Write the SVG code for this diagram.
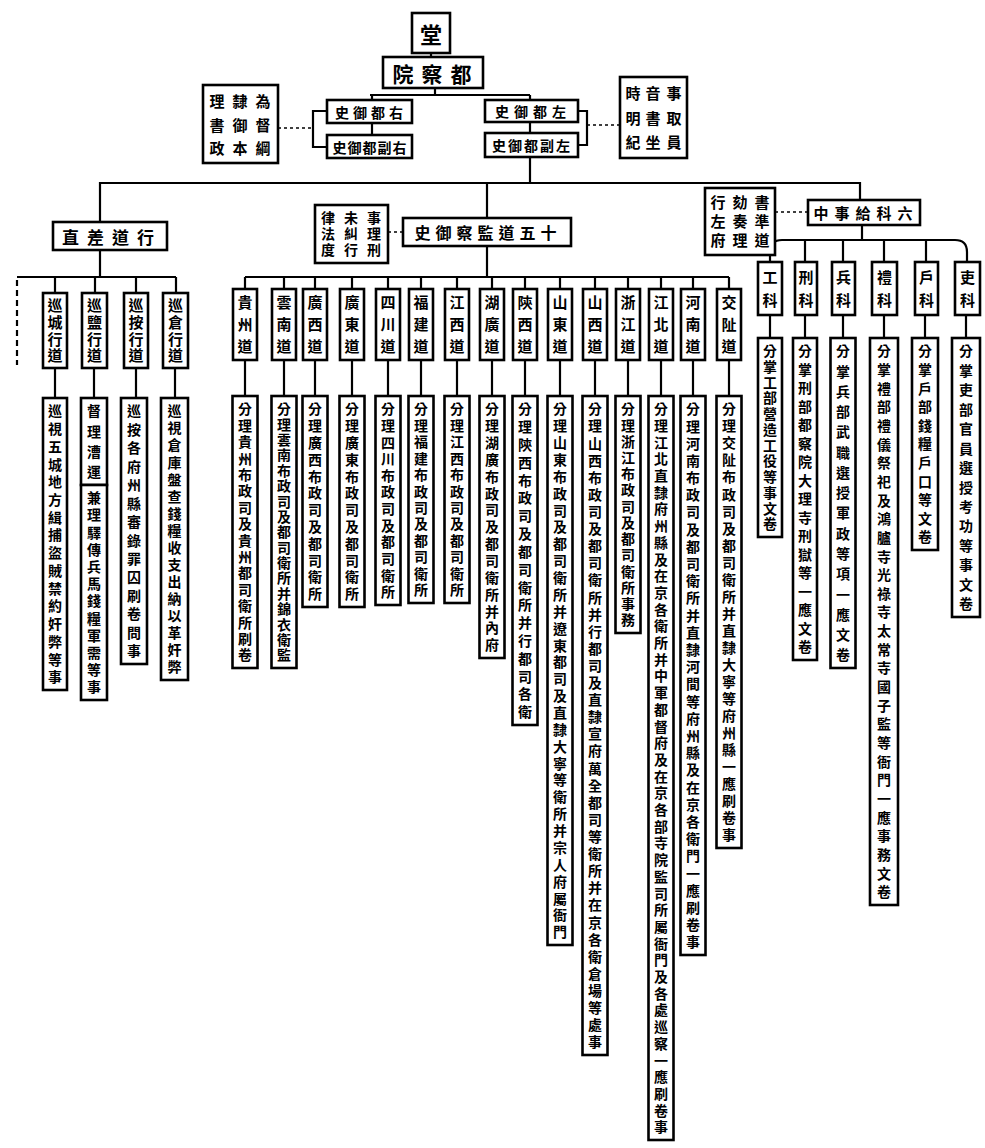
<svg xmlns="http://www.w3.org/2000/svg" width="985" height="1148" viewBox="0 0 985 1148">
<style>
.bx{fill:#fff;stroke:#000;stroke-width:2.6}
.ln{stroke:#000;stroke-width:2.2;fill:none}
.ds{stroke:#000;stroke-width:1.4;stroke-dasharray:3 3;fill:none}
.t{font-family:"Noto Sans CJK TC","Noto Sans CJK SC",sans-serif;font-weight:700;fill:#000}
.v{writing-mode:vertical-rl;text-orientation:upright}
.h{text-anchor:middle;dominant-baseline:central}
.lg{font-size:14px}
.sb{font-size:15px}
</style>
<rect width="985" height="1148" fill="#fff"/>
<g id="connectors">
<line class="ln" x1="431" y1="53" x2="431" y2="57"/>
<path class="ln" d="M435,88 V95 M370,95 H530 M372,95 V100 M372,123 V135 M530,95 V100 M530,122 V133 M530,157 V183"/>
<path class="ln" d="M327,111 H313 V147 H327"/>
<line class="ds" x1="278" y1="128" x2="313" y2="128"/>
<path class="ln" d="M578,111 H587 V145 H578"/>
<line class="ds" x1="587" y1="125" x2="620" y2="125"/>
<path class="ln" d="M100,222 V183 H860 V200"/>
<path class="ln" d="M487,183 V218 M487,246 V277 M245,277 H729"/>
<path class="ln" d="M245,277 V289 M284,277 V289 M315,277 V289 M352,277 V289 M388,277 V289 M421,277 V289 M457,277 V289 M492,277 V289 M525,277 V289 M560,277 V289 M595,277 V289 M628,277 V289 M661,277 V289 M693,277 V289 M729,277 V289"/>
<path class="ln" d="M245,360 V396 M284,360 V396 M315,360 V396 M352,360 V396 M388,360 V396 M421,360 V396 M457,360 V396 M492,360 V396 M525,360 V396 M560,360 V396 M595,360 V396 M628,360 V396 M661,360 V396 M693,360 V396 M729,360 V396"/>
<line class="ds" x1="388" y1="232" x2="403" y2="232"/>
<path class="ln" d="M100,250 V277 M17,277 H176 M55,277 V293 M95,277 V293 M136,277 V293 M176,277 V293"/>
<line class="ds" x1="17" y1="280" x2="17" y2="365" style="stroke-width:2.2;stroke-dasharray:6 4"/>
<path class="ln" d="M55,368 V398 M94,368 V398 M136,368 V398 M175,368 V398"/>
<line class="ds" x1="775" y1="212" x2="808" y2="212"/>
<path class="ln" d="M862,225 V240 M770,262 V252 Q770,240 782,240 H955 Q967,240 967,252 V262 M805,240 V262 M843,240 V262 M884,240 V262 M926,240 V262"/>
<path class="ln" d="M770,315 V338 M805,315 V338 M843,315 V338 M884,315 V338 M925,315 V338 M966,315 V338"/>
</g>
<g id="n-top"><rect class="bx" x="412" y="13" width="38" height="40"/><text class="t h" x="431" y="33" font-size="22">堂</text></g>
<g id="n-root"><rect class="bx" x="383" y="57" width="100" height="31"/><text class="t h" x="436" y="72.5" font-size="21" letter-spacing="8">院察都</text></g>
<g id="n-lnote"><rect class="bx" x="203" y="85" width="75" height="78"/>
<text class="t v" x="217" y="94" font-size="15" textLength="62" lengthAdjust="spacing">理書政</text>
<text class="t v" x="240" y="94" font-size="15" textLength="62" lengthAdjust="spacing">隸御本</text>
<text class="t v" x="263" y="94" font-size="15" textLength="62" lengthAdjust="spacing">為督綱</text></g>
<g id="n-r1"><rect class="bx" x="327" y="100" width="85" height="23"/><text class="t h" x="371" y="111.5" font-size="14" letter-spacing="4">史御都右</text></g>
<g id="n-r2"><rect class="bx" x="327" y="135" width="85" height="23"/><text class="t h" x="370" y="146.5" font-size="14" letter-spacing="1">史御都副右</text></g>
<g id="n-l1"><rect class="bx" x="485" y="100" width="93" height="22"/><text class="t h" x="533" y="111" font-size="14" letter-spacing="5">史御都左</text></g>
<g id="n-l2"><rect class="bx" x="485" y="133" width="93" height="24"/><text class="t h" x="532" y="145" font-size="14" letter-spacing="2">史御都副左</text></g>
<g id="n-rnote"><rect class="bx" x="620" y="77" width="67" height="81"/>
<text class="t v" x="633" y="86" font-size="15" textLength="64" lengthAdjust="spacing">時明紀</text>
<text class="t v" x="653" y="86" font-size="15" textLength="64" lengthAdjust="spacing">音書坐</text>
<text class="t v" x="674" y="86" font-size="15" textLength="64" lengthAdjust="spacing">事取員</text></g>
<g id="g-left"><rect class="bx" x="53" y="222" width="114" height="28"/><text class="t h" x="112" y="236" font-size="17" letter-spacing="8">直差道行</text></g>
<g id="s-l1"><rect class="bx" x="43" y="293" width="24" height="75"/><text class="t v sb" x="55" y="298" textLength="65" lengthAdjust="spacing">巡城行道</text></g>
<g id="s-l2"><rect class="bx" x="82" y="293" width="25" height="75"/><text class="t v sb" x="94.5" y="298" textLength="65" lengthAdjust="spacing">巡鹽行道</text></g>
<g id="s-l3"><rect class="bx" x="124" y="293" width="24" height="75"/><text class="t v sb" x="136" y="298" textLength="65" lengthAdjust="spacing">巡按行道</text></g>
<g id="s-l4"><rect class="bx" x="163" y="293" width="25" height="75"/><text class="t v sb" x="175.5" y="298" textLength="65" lengthAdjust="spacing">巡倉行道</text></g>
<g id="d-l1"><rect class="bx" x="43" y="398" width="24" height="292"/><text class="t v lg" x="55" y="404" textLength="280" lengthAdjust="spacing">巡視五城地方緝捕盜賊禁約奸弊等事</text></g>
<g id="d-l2"><rect class="bx" x="81" y="398" width="26" height="87"/><text class="t v lg" x="94" y="404" textLength="75" lengthAdjust="spacing">督理漕運</text>
<rect class="bx" x="81" y="485" width="26" height="215"/><text class="t v lg" x="94" y="491" textLength="203" lengthAdjust="spacing">兼理驛傳兵馬錢糧軍需等事</text></g>
<g id="d-l3"><rect class="bx" x="121" y="398" width="26" height="266"/><text class="t v lg" x="134" y="404" textLength="254" lengthAdjust="spacing">巡按各府州縣審錄罪囚刷卷問事</text></g>
<g id="d-l4"><rect class="bx" x="161" y="398" width="27" height="282"/><text class="t v lg" x="174.5" y="404" textLength="270" lengthAdjust="spacing">巡視倉庫盤查錢糧收支出納以革奸弊</text></g>
<g id="g-mid"><rect class="bx" x="403" y="218" width="168" height="28"/><text class="t h" x="488" y="232" font-size="16" letter-spacing="5">史御察監道五十</text></g>
<g id="n-mnote"><rect class="bx" x="315" y="205" width="73" height="58"/>
<text class="t v" x="328" y="211" font-size="14" textLength="46" lengthAdjust="spacing">律法度</text>
<text class="t v" x="351" y="211" font-size="14" textLength="46" lengthAdjust="spacing">未糾行</text>
<text class="t v" x="374" y="211" font-size="14" textLength="46" lengthAdjust="spacing">事理刑</text></g>
<g id="s-m1"><rect class="bx" x="233" y="289" width="24" height="71"/><text class="t v sb" x="245" y="295" textLength="59" lengthAdjust="spacing">貴州道</text></g>
<g id="s-m2"><rect class="bx" x="272" y="289" width="24" height="71"/><text class="t v sb" x="284" y="295" textLength="59" lengthAdjust="spacing">雲南道</text></g>
<g id="s-m3"><rect class="bx" x="303" y="289" width="24" height="71"/><text class="t v sb" x="315" y="295" textLength="59" lengthAdjust="spacing">廣西道</text></g>
<g id="s-m4"><rect class="bx" x="340" y="289" width="24" height="71"/><text class="t v sb" x="352" y="295" textLength="59" lengthAdjust="spacing">廣東道</text></g>
<g id="s-m5"><rect class="bx" x="376" y="289" width="24" height="71"/><text class="t v sb" x="388" y="295" textLength="59" lengthAdjust="spacing">四川道</text></g>
<g id="s-m6"><rect class="bx" x="409" y="289" width="24" height="71"/><text class="t v sb" x="421" y="295" textLength="59" lengthAdjust="spacing">福建道</text></g>
<g id="s-m7"><rect class="bx" x="445" y="289" width="24" height="71"/><text class="t v sb" x="457" y="295" textLength="59" lengthAdjust="spacing">江西道</text></g>
<g id="s-m8"><rect class="bx" x="480" y="289" width="24" height="71"/><text class="t v sb" x="492" y="295" textLength="59" lengthAdjust="spacing">湖廣道</text></g>
<g id="s-m9"><rect class="bx" x="513" y="289" width="24" height="71"/><text class="t v sb" x="525" y="295" textLength="59" lengthAdjust="spacing">陝西道</text></g>
<g id="s-m10"><rect class="bx" x="548" y="289" width="24" height="71"/><text class="t v sb" x="560" y="295" textLength="59" lengthAdjust="spacing">山東道</text></g>
<g id="s-m11"><rect class="bx" x="583" y="289" width="24" height="71"/><text class="t v sb" x="595" y="295" textLength="59" lengthAdjust="spacing">山西道</text></g>
<g id="s-m12"><rect class="bx" x="616" y="289" width="24" height="71"/><text class="t v sb" x="628" y="295" textLength="59" lengthAdjust="spacing">浙江道</text></g>
<g id="s-m13"><rect class="bx" x="649" y="289" width="24" height="71"/><text class="t v sb" x="661" y="295" textLength="59" lengthAdjust="spacing">江北道</text></g>
<g id="s-m14"><rect class="bx" x="681" y="289" width="24" height="71"/><text class="t v sb" x="693" y="295" textLength="59" lengthAdjust="spacing">河南道</text></g>
<g id="s-m15"><rect class="bx" x="717" y="289" width="24" height="71"/><text class="t v sb" x="729" y="295" textLength="59" lengthAdjust="spacing">交阯道</text></g>
<g id="d-m1"><rect class="bx" x="232.5" y="396" width="25" height="272"/><text class="t v lg" x="245" y="402" textLength="260" lengthAdjust="spacing">分理貴州布政司及貴州都司衛所刷卷</text></g>
<g id="d-m2"><rect class="bx" x="271.5" y="396" width="25" height="272"/><text class="t v lg" x="284" y="402" textLength="260" lengthAdjust="spacing">分理雲南布政司及都司衛所并錦衣衛監</text></g>
<g id="d-m3"><rect class="bx" x="302.5" y="396" width="25" height="211"/><text class="t v lg" x="315" y="402" textLength="199" lengthAdjust="spacing">分理廣西布政司及都司衛所</text></g>
<g id="d-m4"><rect class="bx" x="339.5" y="396" width="25" height="211"/><text class="t v lg" x="352" y="402" textLength="199" lengthAdjust="spacing">分理廣東布政司及都司衛所</text></g>
<g id="d-m5"><rect class="bx" x="375.5" y="396" width="25" height="209"/><text class="t v lg" x="388" y="402" textLength="197" lengthAdjust="spacing">分理四川布政司及都司衛所</text></g>
<g id="d-m6"><rect class="bx" x="408.5" y="396" width="25" height="207"/><text class="t v lg" x="421" y="402" textLength="195" lengthAdjust="spacing">分理福建布政司及都司衛所</text></g>
<g id="d-m7"><rect class="bx" x="444.5" y="396" width="25" height="207"/><text class="t v lg" x="457" y="402" textLength="195" lengthAdjust="spacing">分理江西布政司及都司衛所</text></g>
<g id="d-m8"><rect class="bx" x="479.5" y="396" width="25" height="262"/><text class="t v lg" x="492" y="402" textLength="250" lengthAdjust="spacing">分理湖廣布政司及都司衛所并內府</text></g>
<g id="d-m9"><rect class="bx" x="512.5" y="396" width="25" height="329"/><text class="t v lg" x="525" y="402" textLength="317" lengthAdjust="spacing">分理陝西布政司及都司衛所并行都司各衛</text></g>
<g id="d-m10"><rect class="bx" x="547.5" y="396" width="25" height="549"/><text class="t v lg" x="560" y="402" textLength="537" lengthAdjust="spacing">分理山東布政司及都司衛所并遼東都司及直隸大寧等衛所并宗人府屬衙門</text></g>
<g id="d-m11"><rect class="bx" x="582.5" y="396" width="25" height="659"/><text class="t v lg" x="595" y="402" textLength="647" lengthAdjust="spacing">分理山西布政司及都司衛所并行都司及直隸宣府萬全都司等衛所并在京各衛倉場等處事</text></g>
<g id="d-m12"><rect class="bx" x="615.5" y="396" width="25" height="237"/><text class="t v lg" x="628" y="402" textLength="225" lengthAdjust="spacing">分理浙江布政司及都司衛所事務</text></g>
<g id="d-m13"><rect class="bx" x="648.5" y="396" width="25" height="744"/><text class="t v lg" x="661" y="402" textLength="732" lengthAdjust="spacing">分理江北直隸府州縣及在京各衛所并中軍都督府及在京各部寺院監司所屬衙門及各處巡察一應刷卷事</text></g>
<g id="d-m14"><rect class="bx" x="680.5" y="396" width="25" height="559"/><text class="t v lg" x="693" y="402" textLength="547" lengthAdjust="spacing">分理河南布政司及都司衛所并直隸河間等府州縣及在京各衛門一應刷卷事</text></g>
<g id="d-m15"><rect class="bx" x="716.5" y="396" width="25" height="452"/><text class="t v lg" x="729" y="402" textLength="440" lengthAdjust="spacing">分理交阯布政司及都司衛所并直隸大寧等府州縣一應刷卷事</text></g>
<g id="g-right"><rect class="bx" x="808" y="200" width="112" height="25"/><text class="t h" x="866" y="212.5" font-size="15" letter-spacing="6">中事給科六</text></g>
<g id="n-rnote2"><rect class="bx" x="705" y="188" width="70" height="67"/>
<text class="t v" x="718" y="195" font-size="15" textLength="53" lengthAdjust="spacing">行左府</text>
<text class="t v" x="740" y="195" font-size="15" textLength="53" lengthAdjust="spacing">劾奏理</text>
<text class="t v" x="762" y="195" font-size="15" textLength="53" lengthAdjust="spacing">書準道</text></g>
<g id="s-r1"><rect class="bx" x="758" y="262" width="24" height="53"/><text class="t v sb" x="770" y="270" textLength="38" lengthAdjust="spacing">工科</text></g>
<g id="s-r2"><rect class="bx" x="795" y="262" width="22" height="53"/><text class="t v sb" x="806" y="270" textLength="38" lengthAdjust="spacing">刑科</text></g>
<g id="s-r3"><rect class="bx" x="832" y="262" width="23" height="53"/><text class="t v sb" x="843.5" y="270" textLength="38" lengthAdjust="spacing">兵科</text></g>
<g id="s-r4"><rect class="bx" x="872" y="262" width="25" height="53"/><text class="t v sb" x="884.5" y="270" textLength="38" lengthAdjust="spacing">禮科</text></g>
<g id="s-r5"><rect class="bx" x="915" y="262" width="23" height="53"/><text class="t v sb" x="926.5" y="270" textLength="38" lengthAdjust="spacing">戶科</text></g>
<g id="s-r6"><rect class="bx" x="955" y="262" width="25" height="53"/><text class="t v sb" x="967.5" y="270" textLength="38" lengthAdjust="spacing">吏科</text></g>
<g id="d-r1"><rect class="bx" x="758" y="338" width="24" height="199"/><text class="t v lg" x="770" y="344" textLength="187" lengthAdjust="spacing">分掌工部營造工役等事文卷</text></g>
<g id="d-r2"><rect class="bx" x="793" y="338" width="24" height="322"/><text class="t v lg" x="805" y="344" textLength="310" lengthAdjust="spacing">分掌刑部都察院大理寺刑獄等一應文卷</text></g>
<g id="d-r3"><rect class="bx" x="830.5" y="338" width="25" height="330"/><text class="t v lg" x="843" y="344" textLength="318" lengthAdjust="spacing">分掌兵部武職選授軍政等項一應文卷</text></g>
<g id="d-r4"><rect class="bx" x="870" y="338" width="28" height="567"/><text class="t v lg" x="884" y="344" textLength="555" lengthAdjust="spacing">分掌禮部禮儀祭祀及鴻臚寺光祿寺太常寺國子監等衙門一應事務文卷</text></g>
<g id="d-r5"><rect class="bx" x="912" y="338" width="26" height="212"/><text class="t v lg" x="925" y="344" textLength="200" lengthAdjust="spacing">分掌戶部錢糧戶口等文卷</text></g>
<g id="d-r6"><rect class="bx" x="952" y="338" width="28" height="279"/><text class="t v lg" x="966" y="344" textLength="267" lengthAdjust="spacing">分掌吏部官員選授考功等事文卷</text></g>
</svg>
